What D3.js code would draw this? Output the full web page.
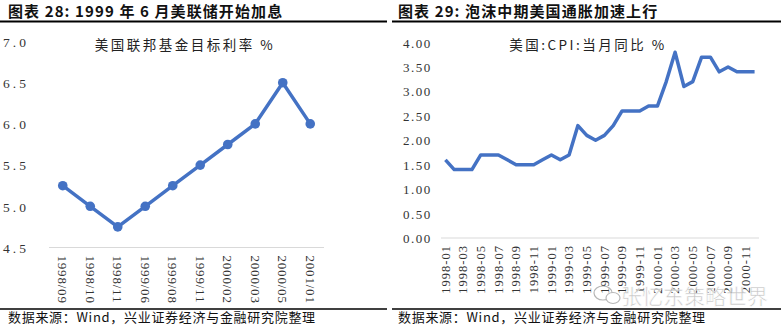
<!DOCTYPE html>
<html><head><meta charset="utf-8">
<script src="https://cdn.jsdelivr.net/npm/d3@7"></script>
<style>
body{margin:0;background:#fff;}
svg{display:block;}
</style></head>
<body><svg id="c" width="781" height="327"></svg>
<script>
// ---- data ----
const fedDates = ["1998/09","1998/10","1998/11","1999/06","1999/08","1999/11","2000/02","2000/03","2000/05","2001/01"];
const fedRates = [5.25,5.0,4.75,5.0,5.25,5.5,5.75,6.0,6.5,6.0];
const fedTicks = [4.5,5.0,5.5,6.0,6.5,7.0];

const cpiMonths = ["1998-01","1998-02","1998-03","1998-04","1998-05","1998-06","1998-07","1998-08","1998-09","1998-10","1998-11","1998-12",
"1999-01","1999-02","1999-03","1999-04","1999-05","1999-06","1999-07","1999-08","1999-09","1999-10","1999-11","1999-12",
"2000-01","2000-02","2000-03","2000-04","2000-05","2000-06","2000-07","2000-08","2000-09","2000-10","2000-11","2000-12"];
const cpiValues = [1.6,1.4,1.4,1.4,1.7,1.7,1.7,1.6,1.5,1.5,1.5,1.6,
1.7,1.6,1.7,2.3,2.1,2.0,2.1,2.3,2.6,2.6,2.6,2.7,
2.7,3.2,3.8,3.1,3.2,3.7,3.7,3.4,3.5,3.4,3.4,3.4];
const cpiTicks = [0,0.5,1.0,1.5,2.0,2.5,3.0,3.5,4.0];
const cpiTickLabels = cpiMonths.filter((d,i)=>i%2===0);

const titles = ["图表 28:  1999 年 6 月美联储开始加息","图表 29:  泡沫中期美国通胀加速上行"];
const chartTitles = ["美国联邦基金目标利率 %","美国:CPI:当月同比 %"];
const sourceText = "数据来源：Wind，兴业证券经济与金融研究院整理";

const blue = "#4472C4";
const svg = d3.select("#c");
const serif = "'Liberation Serif','Times New Roman','Noto Sans CJK SC',serif";
const cjk = "'Noto Sans CJK SC','Liberation Serif',serif";

// headers and rules
[[8,0,387],[398,392,781]].forEach(([tx,x0,x1],i)=>{
  svg.append("text").attr("x",tx).attr("y",17).text(titles[i])
    .attr("font-family",cjk).attr("font-weight","bold").attr("font-size",15).attr("letter-spacing","1.1px").attr("fill","#111");
  svg.append("line").attr("x1",x0).attr("x2",x1).attr("y1",21.5).attr("y2",21.5).attr("stroke","#000").attr("stroke-width",2);
  svg.append("line").attr("x1",x0).attr("x2",x1).attr("y1",309).attr("y2",309).attr("stroke","#000").attr("stroke-width",1.5);
  svg.append("text").attr("x",tx).attr("y",322).text(sourceText)
    .attr("font-family",cjk).attr("font-size",13).attr("letter-spacing","0.7px").attr("fill","#111");
});

// ---- left chart ----
{
  const x = d3.scaleBand().domain(fedDates).range([49,324]);
  const y = d3.scaleLinear().domain([4.5,7.0]).range([247.5,41.5]);
  const g = svg.append("g");
  g.append("line").attr("x1",49).attr("x2",324).attr("y1",y(4.5)).attr("y2",y(4.5)).attr("stroke","#d9d9d9").attr("stroke-width",1);
  const ya = d3.axisLeft(y).tickValues(fedTicks).tickFormat(d3.format(".1f")).tickSize(0);
  const yg = g.append("g").attr("transform","translate(3,0)").call(ya);
  yg.select(".domain").remove();
  yg.selectAll("text").attr("font-family",serif).attr("font-size",13.5).attr("fill","#333").attr("letter-spacing","3px")
    .attr("text-anchor","start").attr("x",0).attr("dy","0.35em");
  const xa = d3.axisBottom(x).tickSize(0);
  const xg = g.append("g").attr("transform",`translate(0,${y(4.5)})`).call(xa);
  xg.select(".domain").remove();
  xg.selectAll("text").attr("font-family",serif).attr("font-size",13).attr("fill","#333").attr("letter-spacing","0.8px")
    .attr("transform","rotate(90)").attr("text-anchor","start").attr("x",8).attr("y",0).attr("dy","0.35em");
  const line = d3.line().x((d,i)=>x(fedDates[i])+x.bandwidth()/2).y(d=>y(d));
  g.append("path").datum(fedRates).attr("d",line).attr("fill","none").attr("stroke",blue).attr("stroke-width",3.5).attr("stroke-linejoin","round");
  g.selectAll("circle").data(fedRates).join("circle")
    .attr("cx",(d,i)=>x(fedDates[i])+x.bandwidth()/2).attr("cy",d=>y(d)).attr("r",4.8).attr("fill",blue);
  g.append("text").attr("x",185).attr("y",50).attr("text-anchor","middle").text(chartTitles[0])
    .attr("font-family",cjk).attr("font-size",13.5).attr("letter-spacing","2.5px").attr("fill","#222");
}

// ---- right chart ----
{
  const x = d3.scaleBand().domain(cpiMonths).range([441,759]);
  const y = d3.scaleLinear().domain([0,4.0]).range([238,42.5]);
  const g = svg.append("g");
  g.append("line").attr("x1",441).attr("x2",759).attr("y1",y(0)).attr("y2",y(0)).attr("stroke","#d9d9d9").attr("stroke-width",1);
  const ya = d3.axisLeft(y).tickValues(cpiTicks).tickFormat(d3.format(".2f")).tickSize(0);
  const yg = g.append("g").attr("transform","translate(403,0)").call(ya);
  yg.select(".domain").remove();
  yg.selectAll("text").attr("font-family",serif).attr("font-size",13).attr("fill","#333").attr("letter-spacing","1.5px")
    .attr("text-anchor","start").attr("x",0).attr("dy","0.35em");
  const xa = d3.axisBottom(x).tickValues(cpiTickLabels).tickSize(0);
  const xg = g.append("g").attr("transform",`translate(0,${y(0)})`).call(xa);
  xg.select(".domain").remove();
  xg.selectAll("text").attr("font-family",serif).attr("font-size",12.5).attr("fill","#333").attr("letter-spacing","1px")
    .attr("transform","rotate(-90)").attr("text-anchor","end").attr("x",-7).attr("y",0).attr("dy","0.35em");
  const line = d3.line().x((d,i)=>x(cpiMonths[i])+x.bandwidth()/2).y(d=>y(d));
  g.append("path").datum(cpiValues).attr("d",line).attr("fill","none").attr("stroke",blue).attr("stroke-width",3.5).attr("stroke-linejoin","round");
  g.append("text").attr("x",588).attr("y",50).attr("text-anchor","middle").text(chartTitles[1])
    .attr("font-family",cjk).attr("font-size",13.5).attr("letter-spacing","2.5px").attr("fill","#222");
}

// watermark
{
  const w = svg.append("g").attr("opacity",0.85);
  w.append("ellipse").attr("cx",603).attr("cy",293).attr("rx",9).attr("ry",7).attr("fill","none").attr("stroke","#aaa").attr("stroke-width",1.2);
  w.append("ellipse").attr("cx",613).attr("cy",298).attr("rx",7).attr("ry",5.5).attr("fill","#fff").attr("stroke","#aaa").attr("stroke-width",1.2);
  w.append("text").attr("x",621).attr("y",304).text("张忆东策略世界")
    .attr("font-family",cjk).attr("font-size",21).attr("fill","#bdbdbd").attr("stroke","#fff").attr("stroke-width",0.6);
}
</script></body></html>
